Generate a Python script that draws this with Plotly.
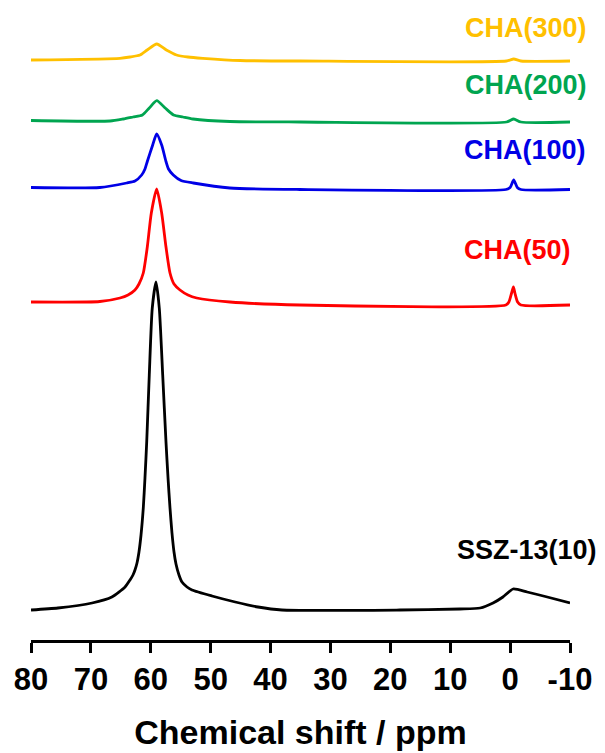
import plotly.graph_objects as go

# ---- data (ppm, intensity above own baseline, arbitrary units) ----
ssz_ppm = [80, 75.5, 69.8, 66.5, 64.3, 63.47, 62.97, 62.64, 62.3, 61.97, 61.63, 61.25,
           60.97, 60.68, 60.25, 59.75, 59.13, 58.58, 58.01, 57.46, 57.12, 56.79, 56.46,
           56.12, 55.79, 55.29, 54.79, 53.95, 53.12, 49.78, 45.9, 42.1, 38.1, 18.4,
           8.4, 5.0, 2.85, 1.2, -0.5, -2.85, -6.2, -10]
ssz_int = [0, 2, 7, 13, 23, 30, 35, 40, 47, 58, 75, 102,
           132, 168, 235, 302, 328, 302, 235, 168, 132, 102, 77,
           58, 46, 35, 28, 23, 20, 14, 8, 3, 0, 0,
           1, 2, 7, 13, 21, 18, 13, 7]

cha50_ppm = [80, 68.5, 65.14, 63.8, 62.64, 61.97, 61.25, 60.58, 59.91, 59.01, 58.18,
             57.46, 56.79, 56.12, 55.12, 53.79, 52.33, 46.77, 35.1,
             0.7, 0.2, -0.25, -0.55, -0.8, -1.25, -1.8, -10]
cha50_int = [3, 3.5, 7, 10, 15, 21, 32, 58, 92, 116, 92,
             58, 32, 21, 15, 10, 7, 3, 0,
             0, 3, 12, 18, 12, 3, 0, 0]

cha100_ppm = [80, 68.5, 64.02, 62.64, 61.52, 60.97, 60.58, 59.68, 59.01, 58.18, 57.46,
              57.04, 56.24, 54.95, 52.9, 46.8, 35.1, 0.7, 0.0, -0.6, -1.2, -1.8, -10]
cha100_int = [2, 2, 6.5, 8.5, 14.5, 20.5, 28, 44.5, 55.5, 44.5, 28,
              20.5, 14.5, 9, 6.5, 1.5, 0, 0, 2, 9.5, 2, 0, 0]

cha200_ppm = [80, 66.8, 64.6, 62.97, 61.4, 60.25, 59.0, 57.6, 56.2, 54.62, 52.95, 46.8,
              35, 0.6, -0.6, -1.8, -10]
cha200_int = [1.5, 1, 3, 5, 7, 14, 21.3, 14, 7, 5, 3, 0.5,
              0, 0, 3, 0, 0]

cha300_ppm = [80, 65.15, 63.47, 61.8, 60.6, 59.0, 57.4, 55.7, 53.8, 51.3, 45.1, 35,
              0.6, -0.6, -1.8, -10]
cha300_int = [1, 2.7, 4, 6, 11, 17, 11, 6, 4, 2.7, 0.5, 0,
              0, 2, 0, 0]

names = ["SSZ-13(10)", "CHA(50)", "CHA(100)", "CHA(200)", "CHA(300)"]
offsets = [30, 335, 450.5, 518, 579]
x_ticks = [80, 70, 60, 50, 40, 30, 20, 10, 0, -10]

series = [(ssz_ppm, ssz_int), (cha50_ppm, cha50_int), (cha100_ppm, cha100_int),
          (cha200_ppm, cha200_int), (cha300_ppm, cha300_int)]
colors = ["#000000", "#FF0000", "#0000E6", "#00A550", "#FFC000"]
label_pos = [(-2.8, 90), (-1.3, 390), (-2.5, 490), (-2.65, 555), (-2.65, 612)]

FONT = "Liberation Sans, Arial, sans-serif"

fig = go.Figure()
for (px, iy), off, col, nm in zip(series, offsets, colors, names):
    fig.add_trace(go.Scatter(
        x=px, y=[off + v for v in iy], mode="lines", name=nm,
        line=dict(color=col, width=2.8, shape="spline", smoothing=0.6),
        hoverinfo="skip", showlegend=False))

for nm, col, (ax, ay) in zip(names, colors, label_pos):
    fig.add_annotation(x=ax, y=ay, xref="x", yref="y", text=nm, showarrow=False,
                       font=dict(family=FONT, size=27, color=col, weight="bold"),
                       xanchor="center", yanchor="middle")

fig.update_layout(
    width=605, height=753,
    margin=dict(l=31, r=35, t=0, b=113),
    plot_bgcolor="white", paper_bgcolor="white",
    xaxis=dict(range=[80, -10], tickvals=x_ticks, ticktext=[str(t) for t in x_ticks],
               showline=True, linecolor="black", linewidth=2.5,
               ticks="outside", ticklen=10, tickwidth=2.5, tickcolor="black",
               showgrid=False, zeroline=False, automargin=False,
               tickfont=dict(family=FONT, size=31, color="black", weight="bold"),
               title=dict(text="Chemical shift / ppm",
                          font=dict(family=FONT, size=34, color="black", weight="bold"),
                          standoff=25)),
    yaxis=dict(range=[0, 640], visible=False, showgrid=False, zeroline=False),
)

fig.write_html("out.html", config={"displayModeBar": False},
               post_script="document.body.style.margin='0';document.body.style.padding='0';")
